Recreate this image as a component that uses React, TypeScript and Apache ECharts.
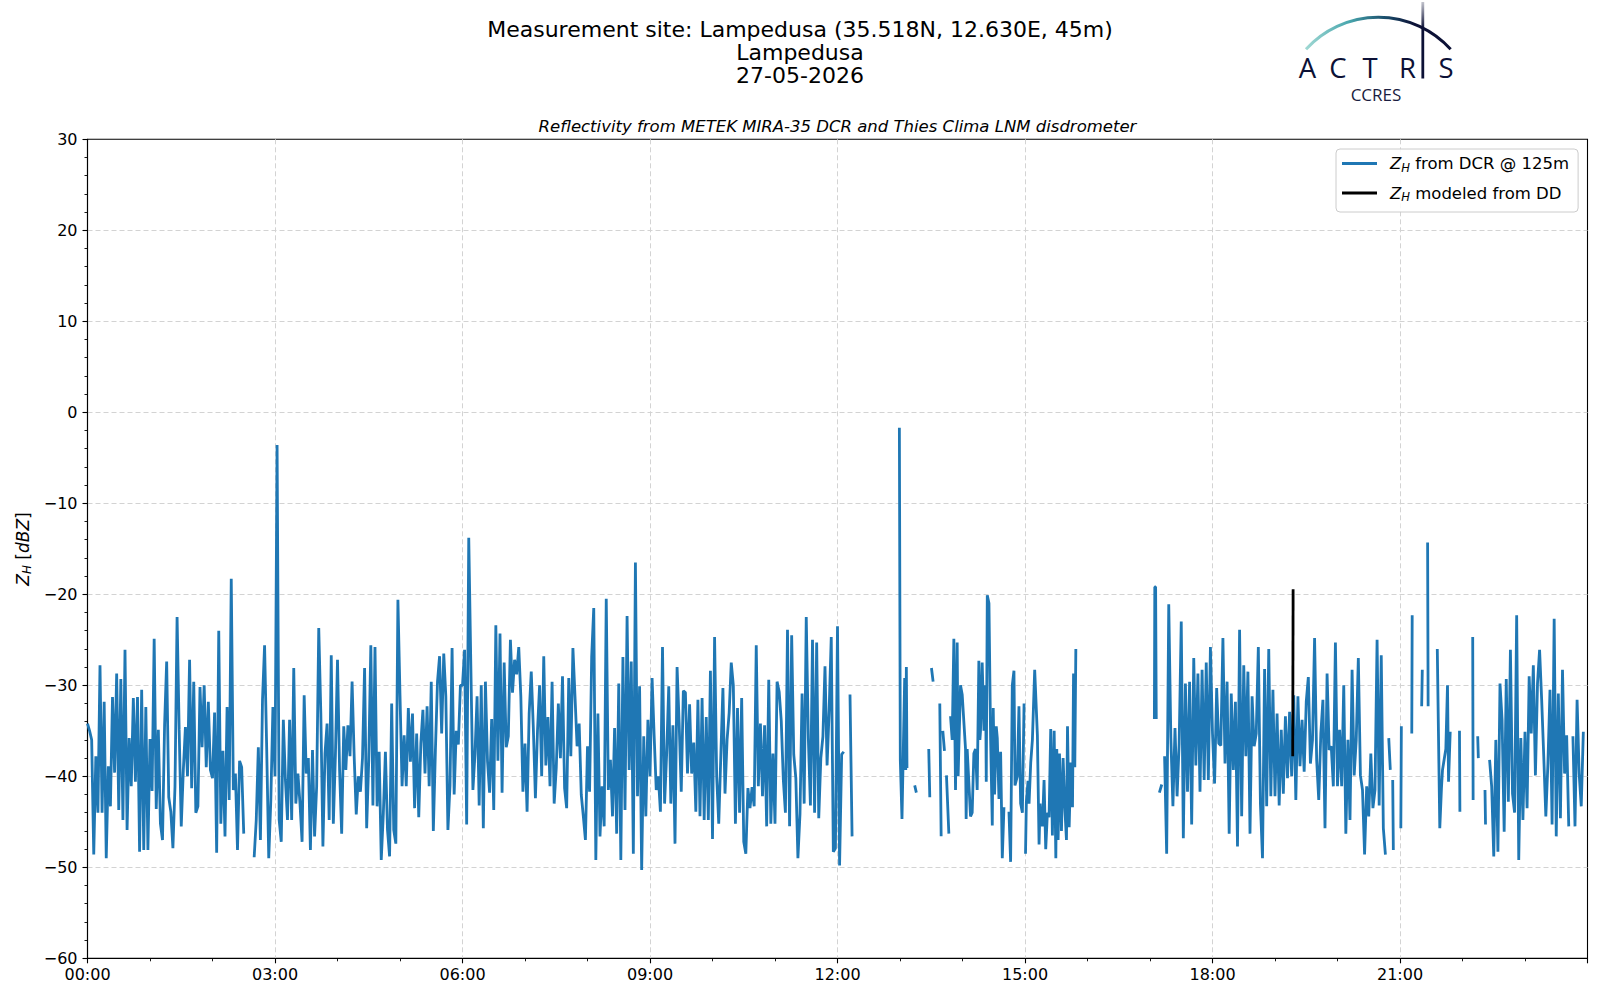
import React, { useEffect, useRef } from "react";
import * as echarts from "echarts";

// ---- DCR reflectivity, 2-minute grid, one array per hour (00:00 - 11:58) ----
const h00 = [-34.2, -35, -36, -48.6, -37.8, -44, -27.8, -44, -31.8, -49, -38.9, -43.3, -31.3, -39.6, -28.7, -43.7, -29.3, -44.8, -26.1, -45.9, -35.8, -41.1, -31.4, -40.6, -31.3, -48.3, -30.5, -48.1, -32.4, -48.1];
const h01 = [-35.9, -41.6, -24.9, -43.6, -34.9, -45.2, -47, -34.4, -27.4, -42.3, -43.9, -47.9, -41.1, -22.5, -34.9, -45.5, -39.3, -34.6, -40, -27.2, -41.3, -29.6, -44, -43.3, -30.2, -36.8, -30, -39, -31.8, -39.3];
const h02 = [-40.2, -33, -48.4, -24, -45.2, -37.2, -46.6, -32.4, -42.6, -18.3, -41.5, -39.7, -48.1, -38.3, -39, -46.3, "-", "-", "-", "-", -48.9, -44.8, -36.8, -47, -31.6, -25.6, -36.8, -49, -42.6, -32.4];
const h03 = [-40, -3.6, -44.8, -47.2, -33.8, -40.4, -44.8, -33.8, -44.8, -28.1, -43, -39.7, -43, -47.2, -31.1, -39.7, -38, -48.1, -37.1, -46.6, -41.1, -23.7, -33.1, -47.7, -37.5, -34.2, -44.8, -26.7, -45.2, -37.7];
const h04 = [-27.2, -39.3, -46.3, -34.5, -39.3, -34.4, -37.8, -29.6, -37.8, -44.2, -40, -41.7, -38, -28.1, -45.7, -38.2, -25.6, -43.2, -25.8, -43.3, -37.3, -49.2, -44.1, -37.3, -45.9, -48.8, -32, -45.9, -47.4, -20.6];
const h05 = [-31.1, -41.1, -35.5, -41.1, -32.5, -38.4, -33.1, -43.5, -35.3, -44.5, -36.4, -32.7, -39.7, -32.3, -41.1, -29.6, -46, -37.1, -29.6, -26.8, -35.3, -26.5, -31.2, -45.9, -41, -25.9, -42, -35, -36.5, -30];
const h06 = [-30, -26.1, -45.3, -13.8, -27.8, -41.5, -37.5, -31.2, -43.2, -30, -45.7, -29.6, -38.3, -41.8, -33.7, -43.7, -23.4, -38.3, -24.3, -41.8, -27.5, -36.8, -35.6, -25, -30.8, -27.2, -28.8, -25.8, -31.2, -41.7];
const h07 = [-36.4, -43.9, -33.1, -28.5, -34.7, -42.4, -35, -30, -40, -26.8, -38.8, -33.5, -41.1, -29.6, -43, -39.1, -32, -38, -29, -41.3, -43.5, -29.2, -37.8, -25.9, -31.2, -36.7, -34.2, -42, -44.4, -47];
const h08 = [-36.7, -41.7, -26.9, -21.5, -49.2, -33.1, -46.6, -41.1, -45.5, -20.5, -41.5, -38.2, -44.4, -34.7, -46.3, -29.8, -49.2, -26.9, -43.7, -22.4, -39.3, -27.4, -48.5, -16.5, -42.2, -30.1, -50.3, -35.6, -44.4, -33.8];
const h09 = [-40, -29.2, -35.6, -41.5, -40, -43.9, -25.8, -43, -37.5, -30.1, -43, -34.4, -47.4, -28, -34.2, -41.7, -30.6, -30.8, -39.7, -32.1, -39.7, -36.3, -43.9, -31.6, -44.4, -31.4, -44.8, -33.5, -44.8, -28.4];
const h10 = [-46.9, -24.7, -40, -45.2, -37.7, -30.3, -41.9, -36, -33, -27.5, -30, -45.2, -32.5, -44, -31.4, -47.2, -48.5, -41.3, -43.5, -41.2, -43.3, -25.6, -41.1, -34.2, -42.2, -34.4, -45.5, -29.4, -45.2, -37.5];
const h11 = [-45.2, -29.6, -30.7, -33.9, -40.4, -44, -23.9, -45.5, -24.5, -37.6, -40.2, -49, -44.1, -30.9, -43, -22.5, -35.8, -43.2, -25, -44, -25.3, -44.6, -38, -35.6, -27.9, -38.8, -32.7, -24.7, -48.3, -47.9];
const h12 = [-23.5, -49.8, -37.6, -37.3, "-", "-", -31, -46.6];

// ---- sparse segments 13:00 - 17:10, [minute of day, dBZ] ----
const noonSegs = [
  [[779.4, -1.7], [780.3, -38.2], [781.9, -44.7], [784.5, -29.2], [785.5, -39.3], [786.1, -28], [786.7, -39.1]],
  [[794.1, -41], [795.7, -41.8]],
  [[807.6, -37], [808.6, -42.3]],
  [[810.2, -28.1], [811.8, -29.6]],
  [[818.2, -32], [819.5, -46.6]],
  [[821.1, -35], [822.7, -37.2]],
  [[824.6, -39.9], [826.9, -46.3]],
  [[828.5, -33.4], [830.1, -36], [831.7, -24.9], [833.3, -41.5], [834.9, -25.3], [835.8, -40], [838.1, -30], [839.7, -31], [842.9, -37], [843.5, -44.7], [844.5, -37], [847.7, -44.4], [849.3, -44], [850.9, -37.5], [852.5, -37], [854.1, -41.5], [855.7, -27.3], [856.7, -36], [857.3, -35], [858.9, -27.5], [860.6, -35], [862.2, -30], [862.8, -40.6], [863.8, -20.1], [865.4, -21], [867, -36], [868.6, -45.4], [869.5, -32.5], [870.8, -42], [872.4, -34.5], [873.4, -35.8], [875, -42.5], [876.6, -37.3], [878.2, -49], [879.8, -43.4]],
  [[884.6, -43.9], [886.2, -49.4], [887.8, -30], [889.4, -28.4], [890.4, -41], [892.6, -40], [894.2, -32.3], [895.8, -43], [897.5, -44], [899.1, -32]],
  [[900.5, -48.5], [901.3, -42.8], [902.9, -40.5], [903.9, -43], [905.5, -38.5], [907.1, -36], [909.3, -28.3], [911.9, -35.5], [913.5, -47.5], [914.5, -43], [915.1, -44.5], [916.7, -45.5], [918.3, -40.4], [919.9, -48], [921.5, -44], [923.1, -44.5], [924.7, -34.8], [926.3, -46.5], [928, -35], [929.6, -49], [930.5, -37], [931.8, -47], [933.1, -37.5], [935, -46], [936.6, -38], [938.2, -43.4], [939.8, -47], [940.8, -34.5], [942.4, -45.6], [944, -38.5], [945.6, -43.4], [946.6, -28.7], [947.8, -39], [948.8, -26]],
  [[1024.2, -33.7], [1024.6, -19.2], [1025.4, -19.2], [1026, -33.7]],
  [[1029, -41.8], [1031.3, -40.9]],
];

// ---- evening, 2-minute grid from 17:14 (minute 1034) to 20:46 ----
const eveStart = 1034;
const eve = [-37.8, -48.5, -21.1, -35.7, -43.3, -34.7, -42.2, -36.4, -23, -46.8, -29.8, -41.7, -29.6, -45.3, -27, -38.8, -28.7, -41.7, -28.3, -40.4, -27.5, -40.4, -25.8,
  -35.3, -40.8, -30.3, -36.4, -36.6, -24.8, -38.6, -29.6, -46.3, -30.9,
  -39.3, -31.8, -47.7, -23.9, -44.4, -27.8, -37.8, -28.5, -46.3, -31.2,
  -36.7, -35.3, -25.8, -43, -49, -28.2, -43.3, -26, -42.2, -30.5,
  -42.2, -33.1, -43.2, -34.9, -41.9, -33.4, -40.2, -32.9, -40, -31.1,
  -42.6, -31.2, -38.9, -33.8, -39.5, -31.8, -29.1, -38.6, -36, -24.8,
  -38.2, -42.6, -35.3, -31.6, -45.7, -28.7, -37.1, -36.7, -41.1, -25.3,
  -41.1, -34.9, -41.1, -30, -46.3, -36, -44.8, -28.3, -39.9, -36,
  -27, -39.9, -41.5, -48.6, -41.1, -44.4, -37.5, -43.5, -41.5, -25,
  -43.2, -26.7, -45.7, -48.6];

// ---- sparse segments 20:49 - 22:22 ----
const lateSegs = [
  [[1249.2, -35.8], [1250.7, -39.3]],
  [[1253, -40.4], [1253.6, -48.1]],
  [[1260.8, -45.7], [1261.3, -34.5]],
  [[1271.3, -35.3], [1271.7, -22.3]],
  [[1280.8, -32.3], [1281.4, -28.3]],
  [[1286.5, -14.3], [1287, -32.3]],
  [[1295.8, -26], [1298.2, -45.7], [1299.8, -41.3], [1300.8, -39.3], [1304, -37], [1305.6, -30], [1306.6, -40.6], [1308.2, -35.1]],
  [[1317.1, -35], [1317.5, -43.9]],
  [[1329.8, -24.7], [1330.2, -42.6]],
  [[1334.6, -35.6], [1335.2, -38]],
  [[1341.6, -41.5], [1342.1, -45.3]],
];

// ---- night, 2-minute grid from 22:26 (minute 1346) ----
const nightStart = 1346;
const night = [-38.2, -41.1, -48.8, -36, -48.3, -29.8, -33.8, -46.1, -29.3, -42.8, -26.1, -41.9, -44, -22.3, -49.2, -35.8, -44.8, -35.1, -43.5, -29, -35.3, -27.8, -39.9, -29.8, -26.1, -31.6, -37.8, -44.4, -38.6, -30.5, -45.3, -22.7, -46.6, -30.9, -44.6, -28.3, -39.7, -35.5, -45.5, "-", -35.6, -45.5, -31.6, -39.7, -43.3, -35.1];

// ---- disdrometer-modelled reflectivity ----
const ddData = [[1157, -37.8], [1157.4, -19.45]];

const xTickStep = 180;
const yTicks = { min: -60, max: 30, step: 10 };

const FONT = "DejaVu Sans";
const BLUE = "#1f77b4";
const NAVY = "#0c1136";

function grid(start: number, step: number, vals: any[]) {
  return vals.map((v, i) => [start + i * step, v]);
}
function segs(list: any[]) {
  const out: any[] = [];
  list.forEach((s: any[]) => {
    s.forEach((p) => out.push(p));
    out.push([s[s.length - 1][0] + 0.2, "-"]);
  });
  return out;
}

const dayBlock = [...h00, ...h01, ...h02, ...h03, ...h04, ...h05, ...h06, ...h07, ...h08, ...h09, ...h10, ...h11, ...h12];
const dcrData = [
  ...grid(0, 2, dayBlock),
  [736, "-"],
  ...segs(noonSegs),
  ...grid(eveStart, 2, eve),
  [eveStart + eve.length * 2, "-"],
  ...segs(lateSegs),
  ...grid(nightStart, 2, night),
];

const richBase = (size: number) => ({
  z: { fontFamily: FONT, fontStyle: "italic", fontSize: size, lineHeight: 20, color: "#000" },
  h: { fontFamily: FONT, fontStyle: "italic", fontSize: size * 0.7, verticalAlign: "bottom", color: "#000" },
  t: { fontFamily: FONT, fontSize: size, lineHeight: 20, color: "#000" },
  g: { width: 8, fontSize: size, lineHeight: 20 },
});

function txt(x: number, y: number, text: string, extra: any = {}) {
  return {
    type: "text",
    x,
    y,
    silent: true,
    style: {
      text,
      fontFamily: FONT,
      fontSize: 22,
      fill: "#000",
      align: "center",
      verticalAlign: "middle",
      textAlign: "center",
      textVerticalAlign: "middle",
      ...extra,
    },
  };
}

export default function App() {
  const ref = useRef<HTMLDivElement>(null);
  useEffect(() => {
    if (!ref.current) return;
    const chart = echarts.init(ref.current, undefined, { renderer: "svg" });
    const pad = (n: number) => (n < 10 ? "0" + n : "" + n);
    const arcGrad = new echarts.graphic.LinearGradient(0, 0, 1, 0, [
      { offset: 0, color: "#9fd8d3" },
      { offset: 0.3, color: "#48a6ad" },
      { offset: 0.55, color: "#1a4d6b" },
      { offset: 0.75, color: NAVY },
      { offset: 1, color: NAVY },
    ]);
    const iGrad = new echarts.graphic.LinearGradient(0, 0, 0, 1, [
      { offset: 0, color: "rgba(12,17,54,0.25)" },
      { offset: 0.35, color: NAVY },
      { offset: 1, color: NAVY },
    ]);
    const letter = (x: number, ch: string) => ({
      type: "text",
      x,
      y: 67.5,
      silent: true,
      style: {
        text: ch,
        fontFamily: "Open Sans",
        fontWeight: 500,
        fontSize: 27.5,
        lineHeight: 21,
        fill: NAVY,
        align: "center",
        verticalAlign: "middle",
        textAlign: "center",
        textVerticalAlign: "middle",
      },
    });
    const splitStyle = { show: true, showMinLine: false, showMaxLine: false, lineStyle: { color: "#d3d3d3", type: [5, 3], width: 1 } };
    chart.setOption({
      animation: false,
      backgroundColor: "#fff",
      grid: { left: 87.5, top: 139.3, width: 1500, height: 819, show: true, borderColor: "#000", borderWidth: 1.1, backgroundColor: "transparent", containLabel: false },
      xAxis: {
        type: "value",
        min: 0,
        max: 1440,
        interval: xTickStep,
        axisLine: { show: true, onZero: false, lineStyle: { color: "#000", width: 1.1 } },
        axisTick: { show: true, length: 5, lineStyle: { color: "#000", width: 1.1 } },
        minorTick: { show: true, splitNumber: 3, length: 3, lineStyle: { color: "#000", width: 0.9 } },
        axisLabel: {
          margin: 8,
          fontFamily: FONT,
          fontSize: 16,
          color: "#000",
          formatter: (v: number) => (v >= 1440 ? "" : pad(Math.round(v / 60)) + ":00"),
        },
        splitLine: splitStyle,
      },
      yAxis: {
        type: "value",
        min: yTicks.min,
        max: yTicks.max,
        interval: yTicks.step,
        axisLine: { show: true, onZero: false, lineStyle: { color: "#000", width: 1.1 } },
        axisTick: { show: true, length: 5, lineStyle: { color: "#000", width: 1.1 } },
        minorTick: { show: true, splitNumber: 5, length: 3, lineStyle: { color: "#000", width: 0.9 } },
        axisLabel: {
          margin: 10,
          fontFamily: FONT,
          fontSize: 16,
          color: "#000",
          formatter: (v: number) => (v < 0 ? "\u2212" + Math.abs(v) : "" + v),
        },
        splitLine: splitStyle,
      },
      legend: {
        orient: "vertical",
        left: 1336,
        top: 149,
        padding: [6, 9, 9, 6],
        itemGap: 11,
        itemWidth: 35,
        itemHeight: 3,
        icon: "rect",
        borderColor: "#cccccc",
        borderWidth: 1,
        borderRadius: 4,
        backgroundColor: "rgba(255,255,255,0.85)",
        data: ["dcr", "dd"],
        formatter: (name: string) =>
          name === "dcr" ? "{g|}{z|Z}{h|H}{t| from DCR @ 125m}" : "{g|}{z|Z}{h|H}{t| modeled from DD}",
        textStyle: { fontFamily: FONT, fontSize: 16.5, color: "#000", rich: richBase(16.5) },
      },
      series: [
        {
          name: "dcr",
          type: "line",
          data: dcrData,
          showSymbol: false,
          symbol: "none",
          connectNulls: false,
          color: BLUE,
          lineStyle: { color: BLUE, width: 2.8 },
          z: 2,
        },
        {
          name: "dd",
          type: "line",
          data: ddData,
          showSymbol: false,
          symbol: "none",
          color: "#000",
          lineStyle: { color: "#000", width: 2.8 },
          z: 3,
        },
      ],
      graphic: [
        txt(800, 29, "Measurement site: Lampedusa (35.518N, 12.630E, 45m)"),
        txt(800, 52, "Lampedusa"),
        txt(800, 75, "27-05-2026"),
        txt(837.5, 126, "Reflectivity from METEK MIRA-35 DCR and Thies Clima LNM disdrometer", { fontSize: 16.5, fontStyle: "italic" }),
        {
          type: "text",
          x: 23,
          y: 549,
          rotation: Math.PI / 2,
          silent: true,
          style: {
            text: "{z|Z}{h|H}{t| [}{z|dBZ}{t|]}",
            rich: richBase(17),
            fontFamily: FONT,
            fontSize: 17,
            fill: "#000",
            align: "center",
            verticalAlign: "middle",
            textAlign: "center",
            textVerticalAlign: "middle",
          },
        },
        {
          type: "arc",
          silent: true,
          shape: { cx: 1378.3, cy: 115, r: 97.7, startAngle: -2.404, endAngle: -0.737, clockwise: true },
          style: { stroke: arcGrad, lineWidth: 3, fill: null },
        },
        { type: "rect", silent: true, shape: { x: 1421.4, y: 2, width: 2.8, height: 76.5 }, style: { fill: iGrad } },
        letter(1307.5, "A"),
        letter(1338, "C"),
        letter(1370, "T"),
        letter(1407.5, "R"),
        letter(1446, "S"),
        {
          type: "text",
          x: 1376,
          y: 94.5,
          silent: true,
          style: {
            text: "CCRES",
            fontFamily: "Open Sans",
            fontSize: 17,
            lineHeight: 15,
            fill: "#1a1d40",
            align: "center",
            verticalAlign: "middle",
            textAlign: "center",
            textVerticalAlign: "middle",
          },
        },
      ],
    });
    return () => chart.dispose();
  }, []);
  return <div ref={ref} style={{ position: "absolute", left: 0, top: 0, width: 1600, height: 1000 }} />;
}
